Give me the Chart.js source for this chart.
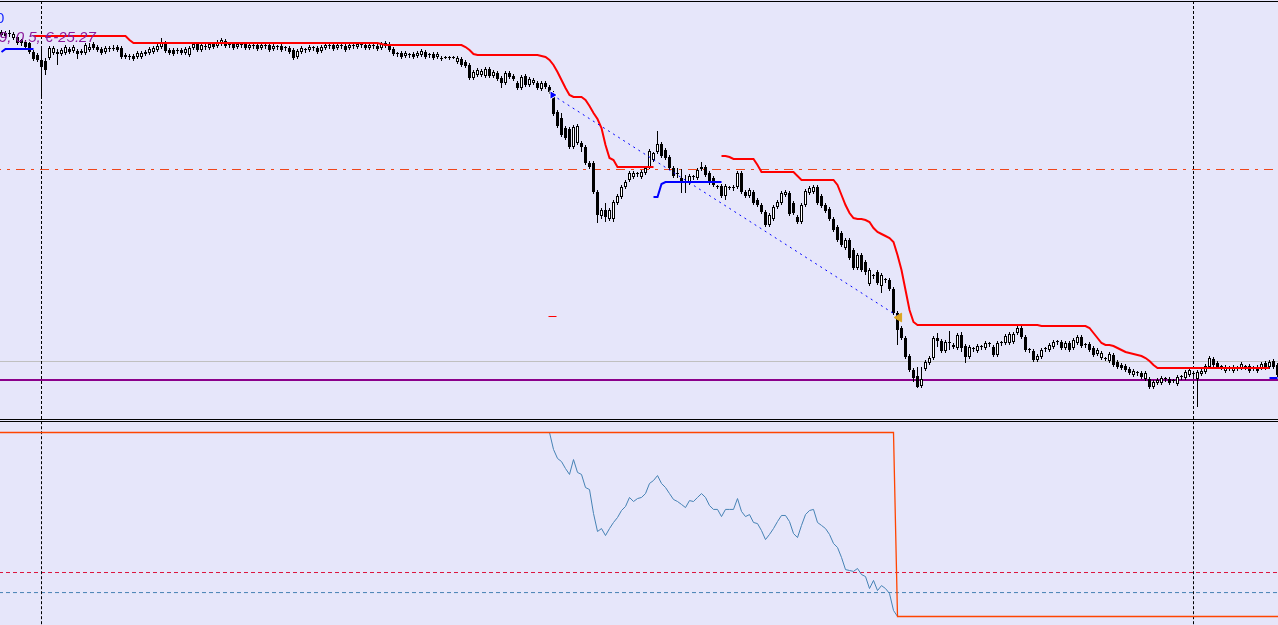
<!DOCTYPE html>
<html>
<head>
<meta charset="utf-8">
<script src="https://cdn.jsdelivr.net/npm/chart.js@4.4.1/dist/chart.umd.min.js"></script>
<style>
  html, body { margin: 0; padding: 0; background: #E6E6FA; overflow: hidden; }
  #wrap { position: relative; width: 1278px; height: 625px; }
  canvas { position: absolute; left: 0; }
  #priceChart { top: 0; }
  #oscChart { top: 422px; }
  .rule { position: absolute; left: 0; width: 1278px; height: 1px; background: #000; }
  .lbl { position: absolute; white-space: nowrap; font-family: "Liberation Sans", sans-serif; }
  #lblTop { left: -4px; top: 10px; font-size: 15px; line-height: 15px; color: #1a2cff; }
  #lblInfo { left: -1px; top: 29px; font-size: 15px; line-height: 15px; font-style: italic; color: #8b1a9b; }
</style>
</head>
<body>
<div id="wrap">
  <canvas id="priceChart" width="1278" height="419"></canvas>
  <canvas id="oscChart" width="1278" height="203"></canvas>
  <div class="rule" style="top:1px"></div>
  <div class="rule" style="top:419px"></div>
  <div class="rule" style="top:421px"></div>
  <div class="lbl" id="lblTop">0</div>
  <div class="lbl" id="lblInfo">9, 0.5, €-25.27</div>
</div>
<script>
// price bars, in points
const opens = [
  385, 387, 387, 382, 383, 380, 378, 377, 368, 365,
  360, 359, 362, 367, 368, 366, 367, 371, 369, 369,
  369, 367, 370, 376, 373, 371, 368, 371, 372, 373,
  372, 365, 364, 364, 363, 363, 366, 367, 368, 370,
  373, 377, 370, 370, 369, 370, 367, 365, 372, 376,
  370, 373, 372, 376, 374, 376, 379, 375, 376, 373,
  375, 376, 372, 374, 375, 372, 374, 375, 371, 373,
  374, 372, 372, 370, 363, 368, 370, 370, 372, 372,
  369, 372, 374, 375, 372, 374, 374, 372, 374, 373,
  375, 375, 372, 374, 374, 372, 374, 376, 371, 366,
  367, 364, 365, 366, 364, 365, 368, 365, 366, 363,
  362, 362, 362, 363, 358, 361, 358, 355, 342, 345,
  345, 344, 351, 344, 347, 342, 337, 347, 344, 337,
  332, 344, 335, 337, 337, 331, 337, 333, 327, 308,
  302, 292, 291, 273, 277, 277, 273, 257, 257, 228,
  204, 210, 201, 201, 217, 223, 233, 240, 243, 246,
  243, 247, 253, 260, 268, 276, 270, 263, 252, 247,
  242, 237, 237, 243, 242, 251, 253, 247, 242, 233,
  234, 224, 232, 232, 233, 247, 228, 224, 228, 220,
  215, 208, 195, 201, 213, 217, 225, 227, 217, 203,
  198, 215, 227, 228, 233, 224, 215, 211, 201, 193,
  187, 172, 180, 170, 152, 165, 158, 136, 144, 148,
  134, 140, 140, 131, 107, 92, 82, 64, 50, 44,
  34, 51, 57, 62, 82, 79, 69, 77, 73, 72,
  85, 74, 63, 71, 69, 73, 72, 76, 73, 65,
  77, 77, 77, 78, 87, 92, 83, 70, 69, 60,
  63, 71, 70, 73, 78, 78, 72, 77, 72, 77,
  83, 75, 76, 72, 66, 62, 61, 59, 65, 58,
  55, 54, 51, 45, 47, 47, 41, 41, 33, 37,
  37, 41, 41, 39, 36, 43, 42, 45, 46, 41,
  46, 48, 53, 61, 57, 53, 49, 52, 49, 52,
  52, 53, 54, 52, 53, 52, 57, 53, 59, 55
];
const highs = [
  390, 389, 390, 388, 385, 381, 380, 378, 370, 367,
  372, 362, 374, 374, 371, 372, 375, 373, 375, 371,
  371, 377, 377, 378, 375, 373, 374, 374, 375, 375,
  374, 367, 366, 366, 369, 369, 370, 373, 374, 376,
  382, 379, 372, 372, 372, 372, 373, 374, 378, 378,
  377, 376, 378, 378, 380, 382, 381, 377, 378, 378,
  377, 378, 377, 376, 377, 377, 376, 377, 376, 375,
  376, 374, 374, 372, 371, 374, 372, 375, 374, 374,
  375, 377, 376, 377, 377, 376, 376, 377, 376, 378,
  377, 377, 377, 376, 376, 378, 379, 378, 373, 368,
  369, 369, 367, 368, 369, 371, 370, 367, 368, 368,
  364, 364, 364, 364, 364, 363, 360, 357, 350, 352,
  351, 353, 353, 350, 349, 344, 349, 349, 346, 339,
  345, 346, 343, 342, 339, 339, 339, 335, 329, 310,
  307, 294, 293, 295, 296, 279, 275, 259, 259, 230,
  212, 217, 212, 220, 226, 235, 240, 249, 249, 248,
  250, 254, 271, 268, 289, 278, 272, 265, 254, 252,
  251, 245, 246, 245, 252, 258, 255, 249, 244, 235,
  236, 236, 234, 235, 249, 249, 230, 232, 230, 222,
  217, 210, 207, 215, 220, 229, 230, 229, 219, 205,
  217, 231, 234, 235, 235, 226, 217, 213, 203, 195,
  189, 182, 182, 172, 167, 167, 160, 152, 146, 150,
  147, 142, 142, 133, 109, 94, 84, 66, 52, 53,
  53, 60, 64, 84, 87, 81, 80, 89, 77, 87,
  88, 76, 75, 73, 76, 75, 79, 78, 75, 79,
  79, 86, 88, 88, 94, 94, 85, 72, 71, 66,
  72, 73, 77, 80, 80, 80, 79, 79, 82, 85,
  85, 77, 78, 74, 72, 69, 63, 68, 67, 60,
  57, 56, 53, 51, 49, 49, 49, 43, 40, 42,
  44, 43, 43, 41, 45, 45, 50, 52, 48, 50,
  51, 56, 64, 63, 59, 55, 55, 54, 55, 54,
  58, 55, 56, 54, 55, 58, 59, 60, 61, 57
];
const lows = [
  383, 382, 383, 380, 375, 374, 371, 366, 359, 358,
  322, 345, 360, 365, 355, 364, 365, 366, 367, 361,
  365, 365, 368, 370, 368, 365, 366, 368, 369, 368,
  361, 361, 360, 359, 361, 361, 364, 365, 366, 368,
  371, 367, 365, 364, 366, 365, 365, 363, 370, 368,
  368, 370, 370, 371, 372, 374, 372, 372, 370, 371,
  372, 370, 370, 371, 369, 370, 371, 368, 369, 370,
  368, 369, 366, 360, 361, 366, 367, 368, 369, 366,
  367, 370, 371, 369, 370, 371, 368, 370, 371, 371,
  372, 370, 370, 371, 369, 370, 372, 368, 364, 363,
  361, 362, 362, 361, 362, 363, 361, 362, 360, 361,
  359, 361, 360, 361, 356, 353, 352, 340, 340, 343,
  343, 342, 342, 342, 339, 332, 335, 341, 339, 330,
  330, 333, 333, 335, 330, 329, 331, 326, 304, 292,
  283, 280, 271, 271, 275, 268, 255, 251, 226, 197,
  201, 198, 199, 198, 215, 221, 231, 238, 241, 243,
  241, 245, 251, 258, 266, 262, 260, 250, 242, 242,
  227, 227, 235, 240, 240, 249, 243, 235, 233, 231,
  222, 220, 230, 229, 231, 226, 222, 222, 215, 213,
  206, 193, 193, 199, 211, 215, 223, 204, 205, 196,
  196, 213, 225, 226, 215, 212, 207, 199, 188, 178,
  173, 170, 160, 150, 150, 148, 145, 134, 141, 135,
  127, 137, 129, 105, 75, 80, 61, 48, 38, 32,
  32, 49, 55, 60, 73, 67, 67, 70, 71, 70,
  68, 57, 61, 68, 67, 70, 70, 73, 63, 63,
  74, 75, 75, 76, 85, 81, 68, 67, 58, 58,
  61, 68, 68, 71, 75, 70, 70, 68, 70, 75,
  72, 72, 68, 63, 64, 60, 59, 57, 53, 51,
  50, 48, 45, 43, 44, 41, 39, 31, 31, 35,
  35, 38, 35, 37, 34, 40, 40, 43, 43, 13,
  44, 46, 51, 53, 51, 50, 47, 49, 47, 49,
  50, 50, 47, 49, 47, 50, 50, 51, 51, 43
];
const closes = [
  388, 384, 386, 386, 377, 377, 373, 368, 361, 360,
  353, 350, 372, 372, 366, 370, 373, 368, 373, 366,
  367, 375, 373, 372, 370, 367, 372, 372, 371, 370,
  363, 363, 363, 361, 367, 367, 368, 371, 372, 374,
  377, 369, 367, 366, 369, 367, 371, 372, 376, 370,
  375, 373, 376, 373, 378, 380, 374, 375, 372, 376,
  375, 372, 375, 374, 371, 375, 374, 370, 374, 373,
  370, 372, 368, 362, 369, 372, 370, 373, 372, 368,
  373, 375, 374, 371, 375, 374, 370, 375, 374, 376,
  375, 372, 375, 374, 371, 376, 377, 370, 366, 366,
  363, 367, 365, 363, 367, 369, 363, 365, 362, 366,
  361, 363, 362, 362, 362, 355, 354, 342, 348, 350,
  349, 351, 344, 348, 341, 337, 347, 343, 341, 332,
  343, 335, 341, 340, 332, 337, 333, 328, 306, 294,
  285, 282, 273, 293, 294, 273, 257, 253, 228, 205,
  210, 203, 210, 218, 224, 233, 238, 247, 247, 246,
  248, 252, 269, 267, 276, 264, 262, 252, 244, 246,
  238, 237, 244, 243, 250, 253, 245, 237, 235, 233,
  224, 234, 232, 232, 247, 228, 224, 230, 217, 215,
  208, 195, 205, 213, 218, 227, 228, 206, 207, 198,
  215, 229, 232, 233, 217, 214, 209, 201, 190, 180,
  175, 180, 162, 152, 165, 150, 148, 150, 144, 137,
  145, 140, 131, 107, 90, 82, 63, 50, 42, 33,
  41, 58, 62, 82, 79, 69, 78, 77, 75, 85,
  72, 63, 73, 71, 74, 73, 77, 76, 65, 77,
  77, 84, 86, 86, 92, 83, 70, 70, 60, 64,
  70, 71, 75, 78, 78, 72, 77, 70, 80, 83,
  74, 75, 70, 65, 70, 67, 61, 66, 55, 53,
  52, 50, 47, 49, 47, 43, 47, 33, 38, 40,
  42, 41, 37, 39, 43, 43, 48, 50, 46, 48,
  49, 54, 62, 55, 53, 53, 53, 52, 53, 52,
  56, 53, 49, 52, 49, 56, 52, 58, 53, 45
];

// trailing stop above price (red)
const trailStop = [
  null, null, null, null, null, null, null, null, 384, 384,
  384, 384, 384, 384, 384, 384, 384, 384, 384, 384,
  384, 384, 384, 384, 384, 384, 384, 384, 384, 384,
  384, 384, 380, 377, 377, 377, 377, 377, 377, 377,
  377, 377, 377, 377, 377, 377, 377, 377, 377, 377,
  377, 377, 377, 377, 377, 377, 377, 377, 377, 377,
  377, 377, 377, 377, 377, 377, 377, 377, 377, 377,
  377, 377, 377, 377, 377, 377, 377, 377, 377, 377,
  377, 377, 377, 377, 377, 377, 377, 377, 377, 377,
  377, 377, 377, 377, 377, 376, 375, 375, 375, 375,
  375, 375, 375, 375, 375, 375, 375, 375, 375, 375,
  375, 375, 375, 375, 375, 375, 373, 370, 366, 365,
  365, 365, 365, 365, 365, 365, 365, 365, 365, 365,
  365, 365, 365, 365, 365, 364, 363, 360, 355, 348,
  340, 332, 325, 323, 323, 323, 320, 314, 307, 301,
  292, 275, 262, 260, 253, 253, 253, 253, 253, 253,
  253, 253, 253, 253, null, null, null, null, null, null,
  null, null, null, null, null, null, null, null, null, null,
  264, 264, 263, 261, 261, 261, 261, 261, 261, 255,
  248, 248, 248, 248, 248, 248, 248, 248, 248, 244,
  240, 240, 240, 240, 240, 240, 240, 240, 240, 235,
  225, 215, 207, 202, 201, 201, 200, 198, 192, 188,
  186, 184, 182, 178, 165, 150, 130, 110, 98, 95,
  95, 95, 95, 95, 95, 95, 95, 95, 95, 95,
  95, 95, 95, 95, 95, 95, 95, 95, 95, 95,
  95, 95, 95, 95, 95, 95, 95, 95, 95, 95,
  94, 94, 94, 94, 94, 94, 94, 94, 94, 94,
  94, 94, 92, 87, 82, 77, 75, 75, 74, 72,
  70, 68, 67, 66, 65, 64, 62, 59, 55, 52,
  52, 52, 52, 52, 52, 52, 52, 52, 52, 52,
  52, 52, 52, 52, 52, 52, 52, 52, 52, 52,
  52, 52, 52, 52, 52, 52, 52, 52, null, null
];

// trailing stop below price (blue), only where it is shown
const supportRuns = [
  { from: 0, values: [368, 371, 371, 371, 371, 371, 371, 371, 371] },
  { from: 163, values: [223, 223, 236, 238, 238, 238, 238, 238, 238, 238, 238, 238, 238, 238, 238, 238, 238, 238] },
  { from: 317, values: [42, 42, 42] }
];

const trendLineX = [137.75, 224];
const trendLineY = [325, 104];
const buyArrow = { x: 137.75, y: 325 };
const sellArrow = { x: 224.4, y: 102.5 };
const stopMark = { x: 137.75, y: 103.5 };

const priceLevels = [250.5, 58.5, 40];     // dash-dot, grey, purple
const cursorBars = [10, 298];

// lower window
const oscStart = 137;
const oscValues = [
  100, 90.8, 85.9, 84.2, 80.4, 77.2, 85.3, 78.3, 77.2, 70.1,
  69.0, 56.0, 46.2, 47.8, 44.0, 47.8, 51.1, 53.8, 57.6, 59.8,
  64.7, 62.5, 64.1, 64.7, 66.8, 72.3, 73.9, 76.6, 72.3, 70.1,
  66.8, 63.6, 62.5, 60.9, 59.2, 63.0, 62.5, 64.7, 66.8, 64.7,
  60.3, 58.2, 58.2, 54.3, 58.2, 58.2, 58.2, 64.1, 57.1, 54.3,
  55.4, 51.1, 50.5, 46.7, 41.8, 44.6, 47.8, 51.6, 54.9, 54.9,
  51.6, 45.1, 42.9, 49.5, 55.4, 57.6, 58.2, 51.1, 49.5, 47.8,
  44.6, 39.7, 37.5, 32.1, 25.5, 25.0, 24.5, 26.1, 22.8, 21.7,
  15.2, 19.6, 14.1, 16.8, 15.2, 12.5, 3.3, 0
];
const signalHigh = 100;
const signalLow = 0;
const signalSwitch = 224;
const oscLevels = [23.9, 13.0];

const xMin = -0.375;
const xMax = 319.125;

function flatLine(y, color, width, dash, order) {
  return {
    type: "line",
    data: [{ x: xMin - 2, y }, { x: xMax + 2, y }],
    borderColor: color,
    borderWidth: width,
    borderDash: dash,
    pointRadius: 0,
    order,
  };
}

function cursorLine(x, lo, hi) {
  return {
    type: "line",
    data: [{ x, y: lo }, { x, y: hi }],
    borderColor: "#000000",
    borderWidth: 1,
    borderDash: [3, 2],
    pointRadius: 0,
    order: 15,
  };
}

const baseOptions = {
  responsive: false,
  animation: false,
  events: [],
  layout: { padding: 0, autoPadding: false },
  plugins: { legend: { display: false }, tooltip: { enabled: false } },
};

const wickData = opens.map((o, i) => ({ x: i, y: [lows[i], highs[i]] }));
const bodyData = opens.map((o, i) => ({ x: i, y: [o, closes[i]] }));
const bodyFill = opens.map((o, i) => (closes[i] > o ? "#ffffff" : "#000000"));

const supportData = [];
supportRuns.forEach((run) => {
  run.values.forEach((v, k) => supportData.push({ x: run.from + k, y: v }));
  supportData.push({ x: run.from + run.values.length - 0.5, y: null });
});

const priceMin = 1;
const priceMax = 420;

new Chart(document.getElementById("priceChart"), {
  type: "bar",
  data: {
    datasets: [
      flatLine(priceLevels[0], "#f0461a", 1, [9, 6, 3, 6], 20),
      flatLine(priceLevels[1], "#c0c0c0", 1, [], 20),
      flatLine(priceLevels[2], "#8b008b", 2, [], 20),
      ...cursorBars.map((x) => cursorLine(x, priceMin - 5, priceMax + 5)),
      {
        type: "bar",
        data: wickData,
        backgroundColor: "#000000",
        borderWidth: 0,
        barThickness: 1,
        grouped: false,
        inflateAmount: 0,
        order: 12,
      },
      {
        type: "bar",
        data: bodyData,
        backgroundColor: bodyFill,
        borderColor: "#000000",
        borderWidth: 1,
        borderSkipped: false,
        barThickness: 3,
        minBarLength: 1,
        grouped: false,
        inflateAmount: 0,
        order: 11,
      },
      {
        type: "line",
        data: trailStop.map((v, i) => ({ x: i, y: v })),
        borderColor: "#ff0000",
        borderWidth: 2,
        pointRadius: 0,
        spanGaps: false,
        order: 3,
      },
      {
        type: "line",
        data: supportData,
        borderColor: "#0000ff",
        borderWidth: 2,
        pointRadius: 0,
        spanGaps: false,
        order: 3,
      },
      {
        type: "line",
        data: trendLineX.map((x, k) => ({ x, y: trendLineY[k] })),
        borderColor: "#0000ff",
        borderWidth: 1,
        borderDash: [2, 4],
        pointRadius: 0,
        order: 2,
      },
      {
        type: "line",
        data: [buyArrow],
        showLine: false,
        pointStyle: "triangle",
        rotation: 90,
        pointRadius: 5,
        pointBackgroundColor: "#0000ff",
        pointBorderColor: "#ffffff",
        pointBorderWidth: 1,
        order: 1,
      },
      {
        type: "line",
        data: [sellArrow],
        showLine: false,
        pointStyle: "triangle",
        rotation: -90,
        pointRadius: 5,
        pointBackgroundColor: "#daa520",
        pointBorderColor: "#daa520",
        pointBorderWidth: 1,
        order: 1,
      },
      {
        type: "line",
        data: [stopMark],
        showLine: false,
        pointStyle: "line",
        pointRadius: 4,
        pointBorderColor: "#ff0000",
        pointBorderWidth: 1,
        order: 1,
      },
    ],
  },
  options: {
    ...baseOptions,
    scales: {
      x: { type: "linear", display: false, min: xMin, max: xMax, offset: false },
      y: { type: "linear", display: false, min: priceMin, max: priceMax },
    },
  },
});

const oscMin = -4.62;
const oscMax = 105.707;

new Chart(document.getElementById("oscChart"), {
  type: "line",
  data: {
    datasets: [
      flatLine(oscLevels[0], "#dc143c", 1, [4, 3], 20),
      flatLine(oscLevels[1], "#4682b4", 1, [4, 3], 20),
      ...cursorBars.map((x) => cursorLine(x, oscMin - 5, oscMax + 5)),
      {
        data: oscValues.map((v, k) => ({ x: oscStart + k, y: v })),
        borderColor: "#4682b4",
        borderWidth: 1,
        pointRadius: 0,
        order: 3,
      },
      {
        data: [
          { x: xMin - 2, y: signalHigh },
          { x: signalSwitch - 1, y: signalHigh },
          { x: signalSwitch, y: signalLow },
          { x: xMax + 2, y: signalLow },
        ],
        borderColor: "#ff4500",
        borderWidth: 1.3,
        pointRadius: 0,
        order: 2,
      },
    ],
  },
  options: {
    ...baseOptions,
    scales: {
      x: { type: "linear", display: false, min: xMin, max: xMax },
      y: { type: "linear", display: false, min: oscMin, max: oscMax },
    },
  },
});
</script>
</body>
</html>
